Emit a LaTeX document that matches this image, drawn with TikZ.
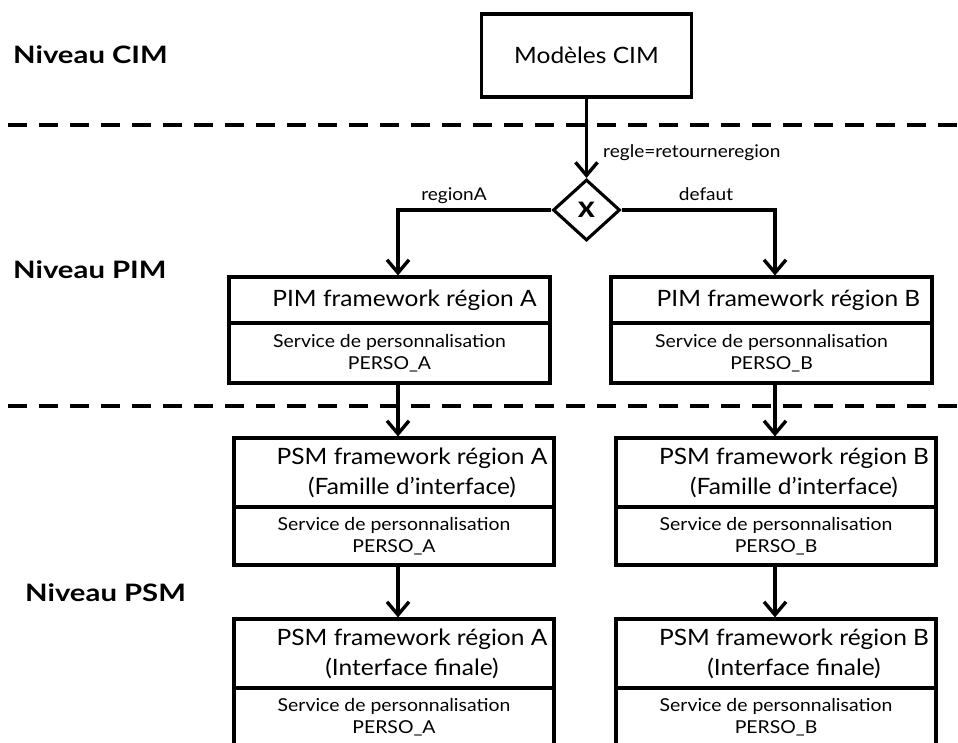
\documentclass[tikz,border=0pt]{standalone}
\usepackage{fontspec}
\setmainfont{Lato}[FakeStretch=1.09]
\newfontfamily\nivfont{Lato}[FakeStretch=1.22]
\usetikzlibrary{shapes.geometric,arrows.meta,calc}
\begin{document}
\begin{tikzpicture}[x=1pt,y=-1pt,
  box/.style={draw, line width=3.1pt, rectangle, inner sep=0pt},
  titlefont/.style={font=\fontsize{22.5}{30}\selectfont, align=center},
  smallfont/.style={font=\fontsize{17.8}{22}\selectfont, align=center},
  niv/.style={font=\nivfont\fontsize{24}{26}\selectfont\bfseries, anchor=west, inner sep=0pt},
  lab/.style={font=\fontsize{17.5}{20}\selectfont, inner sep=0pt},
  conn/.style={line width=3.4pt, -{Straight Barb[length=13pt,width=22pt]}},
  dashline/.style={line width=4pt, dash pattern=on 19pt off 12pt},
  titlebox/.style={box, minimum width=321pt},
  servbox/.style={box, minimum width=321pt, smallfont}
]
\useasboundingbox (0,0) rectangle (958,743);
\clip (0,0) rectangle (958,743);

% level labels
\node[niv] (nivcim) at (13,55) {Niveau CIM};
\node[niv] (nivpim) at (13,270) {Niveau PIM};
\node[niv] (nivpsm) at (25,593) {Niveau PSM};

% dashed separators
\draw[dashline] (8,125) -- (958,125);
\draw[dashline] (8,406) -- (958,406);

% CIM box and gateway
\node[box, minimum width=210pt, minimum height=83pt, titlefont] (cim) at (586.5,55.5) {Modèles CIM};
\node[draw, diamond, line width=3.1pt, minimum width=67pt, minimum height=61pt, inner sep=0pt,
      font=\fontsize{30}{30}\selectfont\bfseries] (gw) at (586.5,210) {x};

\coordinate (xA) at (398,0);
\coordinate (xB) at (775,0);

% PIM boxes
\node[titlebox, minimum height=46pt] (pimA) at (389.5,300) {};
\node[servbox, minimum height=60pt] (pimAs) at (389.5,353) {Service de personnalisation\\PERSO\_A};
\node[titlefont] (pimAt) at (404.5,300) {PIM framework région A};

\node[titlebox, minimum height=46pt] (pimB) at (771.5,300) {};
\node[servbox, minimum height=60pt] (pimBs) at (771.5,353) {Service de personnalisation\\PERSO\_B};
\node[titlefont] (pimBt) at (788.5,300) {PIM framework région B};

% PSM family boxes
\node[titlebox, minimum width=320pt, minimum height=69pt] (psmA) at (394,472.5) {};
\node[servbox, minimum width=320pt, minimum height=58pt] (psmAs) at (394,536) {Service de personnalisation\\PERSO\_A};
\node[titlefont] (psmAt) at (412,472.5) {PSM framework région A\\(Famille d’interface)};

\node[titlebox, minimum width=320pt, minimum height=69pt] (psmB) at (776,472.5) {};
\node[servbox, minimum width=320pt, minimum height=58pt] (psmBs) at (776,536) {Service de personnalisation\\PERSO\_B};
\node[titlefont] (psmBt) at (794,472.5) {PSM framework région B\\(Famille d’interface)};

% PSM final boxes
\node[titlebox, minimum width=320pt, minimum height=69pt] (finA) at (394,653.5) {};
\node[servbox, minimum width=320pt, minimum height=58pt] (finAs) at (394,717) {Service de personnalisation\\PERSO\_A};
\node[titlefont] (finAt) at (412,653.5) {PSM framework région A\\(Interface finale)};

\node[titlebox, minimum width=320pt, minimum height=69pt] (finB) at (776,653.5) {};
\node[servbox, minimum width=320pt, minimum height=58pt] (finBs) at (776,717) {Service de personnalisation\\PERSO\_B};
\node[titlefont] (finBt) at (794,653.5) {PSM framework région B\\(Interface finale)};

% labels
\node[lab, anchor=west] (regle) at (603,153) {regle=retourneregion};
\node[lab] (regA) at (454,196) {regionA};
\node[lab] (def) at (706,194) {defaut};

% connectors
\draw[conn] (cim.south) -- (gw.north);
\draw[conn] (gw.west) -| (pimA.north -| xA);
\draw[conn] (gw.east) -| (pimB.north -| xB);
\draw[conn] (pimAs.south -| xA) -- (psmA.north -| xA);
\draw[conn] (pimBs.south -| xB) -- (psmB.north -| xB);
\draw[conn] (psmAs.south -| xA) -- (finA.north -| xA);
\draw[conn] (psmBs.south -| xB) -- (finB.north -| xB);
\end{tikzpicture}
\end{document}
